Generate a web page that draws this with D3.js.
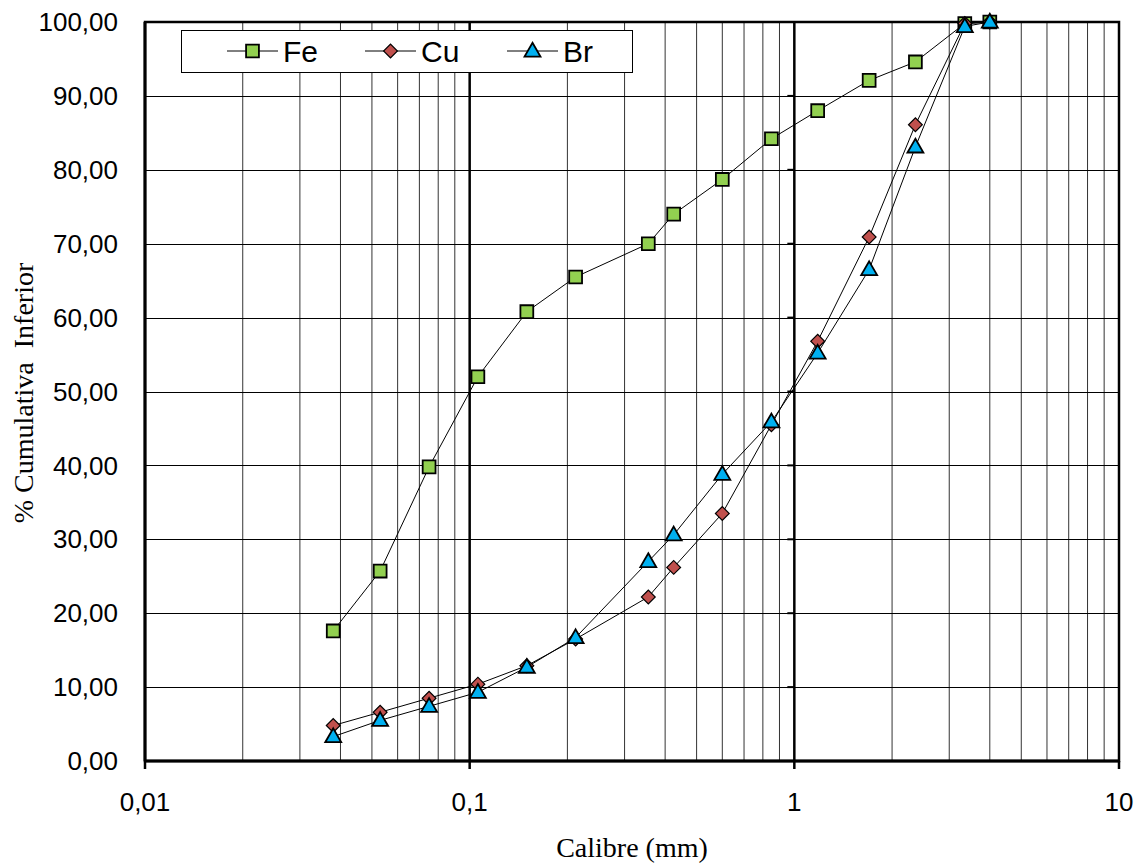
<!DOCTYPE html>
<html><head><meta charset="utf-8">
<script src="https://cdn.jsdelivr.net/npm/d3@7"></script>
<style>body{margin:0;background:#fff}svg{display:block}</style>
</head><body>
<svg id="c" width="1142" height="863"></svg>
<script>
const sizes = [0.038, 0.053, 0.075, 0.106, 0.15, 0.212, 0.355, 0.425, 0.6, 0.85, 1.18, 1.7, 2.36, 3.35, 4.0];
const fe = [17.6, 25.7, 39.8, 52.0, 60.8, 65.5, 70.0, 74.0, 78.7, 84.2, 88.0, 92.1, 94.6, 99.8, 100.0];
const cu = [4.8, 6.6, 8.5, 10.4, 12.9, 16.5, 22.2, 26.2, 33.5, 45.5, 56.8, 70.9, 86.1, 99.8, 100.0];
const br = [3.3, 5.5, 7.4, 9.3, 12.7, 16.7, 27.0, 30.6, 38.8, 45.9, 55.2, 66.5, 83.1, 99.4, 100.0];
const seriesNames = ["Fe", "Cu", "Br"];
const yTicks = [0, 10, 20, 30, 40, 50, 60, 70, 80, 90, 100];
const xMajor = [0.01, 0.1, 1, 10];
const xLabels = ["0,01", "0,1", "1", "10"];
const xTitle = "Calibre (mm)";
const yTitle = "% Cumulativa\u00a0\u00a0Inferior";

const svg = d3.select("#c");
const L = 145, R = 1119, T = 22, B = 761;
const x = d3.scaleLog().domain([0.01, 10]).range([L, R]);
const y = d3.scaleLinear().domain([0, 100]).range([B, T]);
const loc = d3.formatLocale({decimal: ",", thousands: ".", grouping: [3], currency: ["", ""]});
const fy = loc.format(".2f");

// minor vertical grid
const minor = [];
for (let e = -2; e < 1; e++) for (let m = 2; m <= 9; m++) minor.push(m * Math.pow(10, e));
svg.append("g").selectAll("line").data(minor).join("line")
  .attr("x1", d => x(d)).attr("x2", d => x(d)).attr("y1", T).attr("y2", B)
  .attr("stroke", "#333").attr("stroke-width", 1);
// horizontal grid
svg.append("g").selectAll("line").data(yTicks.slice(1, -1)).join("line")
  .attr("x1", L).attr("x2", R).attr("y1", d => Math.round(y(d)) + 0.5).attr("y2", d => Math.round(y(d)) + 0.5)
  .attr("stroke", "#000").attr("stroke-width", 1);
// major vertical
svg.append("g").selectAll("line").data([0.1, 1]).join("line")
  .attr("x1", d => x(d)).attr("x2", d => x(d)).attr("y1", T).attr("y2", B)
  .attr("stroke", "#000").attr("stroke-width", 2.5);
// ticks on x=1 line
svg.append("g").selectAll("line").data(yTicks).join("line")
  .attr("x1", x(1) - 7).attr("x2", x(1)).attr("y1", d => y(d)).attr("y2", d => y(d))
  .attr("stroke", "#000").attr("stroke-width", 2);
// frame
svg.append("rect").attr("x", L).attr("y", T).attr("width", R - L).attr("height", B - T)
  .attr("fill", "none").attr("stroke", "#000").attr("stroke-width", 2.5);
// bottom/left axis thick
svg.append("line").attr("x1", L).attr("x2", R).attr("y1", B).attr("y2", B).attr("stroke", "#000").attr("stroke-width", 3);
svg.append("line").attr("x1", L).attr("x2", L).attr("y1", T).attr("y2", B).attr("stroke", "#000").attr("stroke-width", 3);
// x major ticks
svg.append("g").selectAll("line").data(xMajor).join("line")
  .attr("x1", d => x(d)).attr("x2", d => x(d)).attr("y1", B).attr("y2", B + 8)
  .attr("stroke", "#000").attr("stroke-width", 2.5);

// tick labels
svg.append("g").selectAll("text").data(yTicks).join("text")
  .attr("x", 118).attr("y", d => y(d)).attr("dy", "0.35em").attr("text-anchor", "end")
  .attr("font-family", "Liberation Sans, Arial, sans-serif").attr("font-size", 26).text(d => fy(d));
svg.append("g").selectAll("text").data(xMajor).join("text")
  .attr("x", d => x(d)).attr("y", 802).attr("dy", "0.35em").attr("text-anchor", "middle")
  .attr("font-family", "Liberation Sans, Arial, sans-serif").attr("font-size", 26).text((d, i) => xLabels[i]);

// titles
svg.append("text").attr("x", 632).attr("y", 857).attr("text-anchor", "middle")
  .attr("font-family", "Liberation Serif, Times New Roman, serif").attr("font-size", 28).text(xTitle);
svg.append("text").attr("transform", "translate(33,393) rotate(-90)").attr("text-anchor", "middle")
  .attr("font-family", "Liberation Serif, Times New Roman, serif").attr("font-size", 28).text(yTitle);

// series
const styles = [
  {vals: fe, fill: "#92D050", type: "square"},
  {vals: cu, fill: "#C0504D", type: "diamond"},
  {vals: br, fill: "#00B0F0", type: "triangle"}
];
function marker(g, type, fill) {
  if (type === "square") {
    g.append("path").attr("d", d3.symbol(d3.symbolSquare, 165)()).attr("fill", fill).attr("stroke", "#000").attr("stroke-width", 1.8);
  } else if (type === "diamond") {
    g.append("path").attr("d", d3.symbol(d3.symbolSquare, 95)()).attr("transform", "rotate(45)")
      .attr("fill", fill).attr("stroke", "#000").attr("stroke-width", 1.2);
  } else {
    g.append("path").attr("d", d3.symbol(d3.symbolTriangle, 110)()).attr("transform", "translate(0,1)")
      .attr("fill", fill).attr("stroke", "#000").attr("stroke-width", 1.8);
  }
}
const line = d3.line().x((d, i) => x(sizes[i])).y(d => y(d));
styles.forEach(s => {
  svg.append("path").attr("d", line(s.vals)).attr("fill", "none").attr("stroke", "#000").attr("stroke-width", 1);
});
styles.forEach(s => {
  s.vals.forEach((v, i) => {
    const g = svg.append("g").attr("transform", `translate(${x(sizes[i])},${y(v)})`);
    marker(g, s.type, s.fill);
  });
});

// legend
const lg = svg.append("g");
lg.append("rect").attr("x", 181.5).attr("y", 30.5).attr("width", 451).attr("height", 42)
  .attr("fill", "#fff").attr("stroke", "#000").attr("stroke-width", 1);
const legX = [227, 365, 507];
styles.forEach((s, i) => {
  const x0 = legX[i];
  lg.append("line").attr("x1", x0).attr("x2", x0 + 51).attr("y1", 51).attr("y2", 51).attr("stroke", "#000").attr("stroke-width", 1);
  const g = lg.append("g").attr("transform", `translate(${x0 + 25.5},51)`);
  marker(g, s.type, s.fill);
  lg.append("text").attr("x", x0 + 56).attr("y", 62).attr("font-family", "Liberation Sans, Arial, sans-serif")
    .attr("font-size", 30).text(seriesNames[i]);
});
</script>
</body></html>
